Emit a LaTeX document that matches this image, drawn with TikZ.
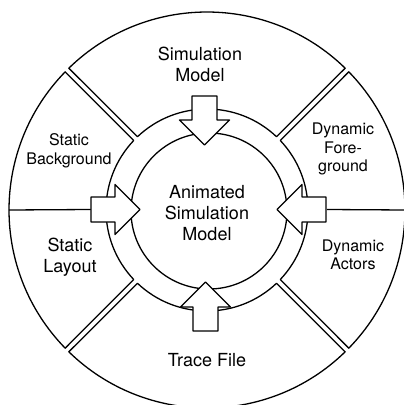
\documentclass[tikz,border=0pt]{standalone}
\usepackage{fontspec}
\setmainfont{TeX Gyre Heros}
% one quarter of the outer ring, between angles #1 and #2,
% pulled back a little from each diagonal so neighbours leave a thin gap
\newcommand\ringsector[2]{%
  \draw ({#1+0.75}:198pt) arc[start angle={#1+0.75}, end angle={#2-0.75}, radius=198pt]
    -- ({#2-1.48}:101pt) arc[start angle={#2-1.48}, end angle={#1+1.48}, radius=101pt]
    -- cycle;}
\begin{document}
\begin{tikzpicture}[x=1pt, y=1pt, line width=1.3pt, line join=round,
  lbl/.style={align=center, inner sep=0pt, font=\fontsize{18}{21}\selectfont},
  lblsmall/.style={align=center, inner sep=0pt, font=\fontsize{16}{18.5}\selectfont},
  inarrow/.pic={\draw[fill=white] (0,0) -- (-25,25) -- (-25,12.5) -- (-49,12.5)
      -- (-49,-12.5) -- (-25,-12.5) -- (-25,-25) -- cycle;}]
\useasboundingbox (-207,-195) rectangle (197,210);
\clip (-207,-195) rectangle (197,210);

% outer ring, split into four sectors
\ringsector{45}{135}
\ringsector{135}{225}
\ringsector{225}{315}
\ringsector{-45}{45}

% inner circle
\draw (2,-1) circle[radius=78pt];

% dividers splitting the side sectors
\coordinate (lo) at (180:198pt);
\coordinate (ro) at (0:198pt);
\coordinate (li) at (-116,0.5);
\coordinate (ri) at (120,0.5);
\draw (lo) -- (li);
\draw (ri) -- (ro);

% block arrows pointing inwards
\path (-2.5,65) pic[rotate=-90] {inarrow};
\path (-1.5,-72) pic[rotate=90] {inarrow};
\path (-67,0.5) pic {inarrow};
\path (70,0.5) pic[rotate=180] {inarrow};

% labels
\node[lbl] (sim) at (-7,146) {Simulation\\Model};
\node[lbl] (anim) at (0,-3) {Animated\\Simulation\\Model};
\node[lblsmall] (sbg) at (-138,59) {Static\\Background};
\node[lbl] (slay) at (-137,-47) {Static\\Layout};
\node[lblsmall] (dfg) at (136,61) {Dynamic\\Fore-\\ground};
\node[lblsmall] (dact) at (146,-45) {Dynamic\\Actors};
\node[lbl] (trace) at (0,-150) {Trace File};
\end{tikzpicture}
\end{document}
